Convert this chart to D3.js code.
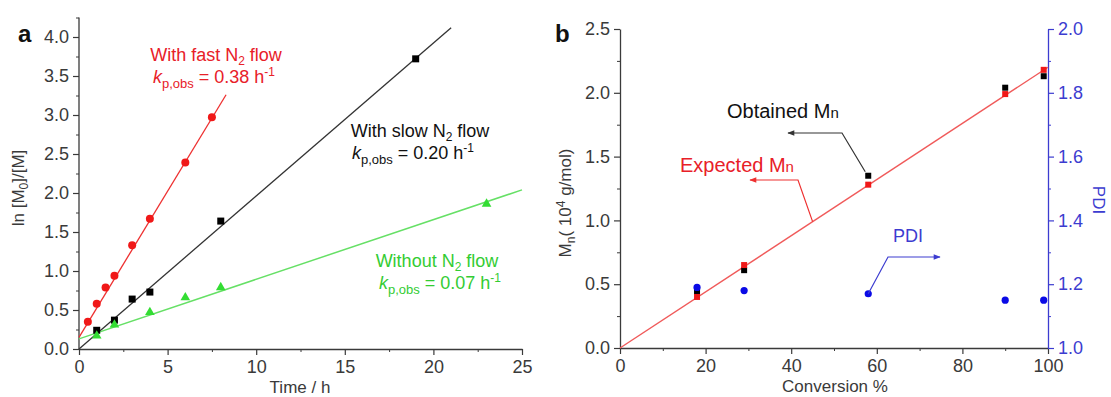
<!DOCTYPE html>
<html>
<head>
<meta charset="utf-8">
<script src="https://cdn.jsdelivr.net/npm/d3@7"></script>
<style>
  body { margin: 0; background: #fff; }
  svg { font-family: "Liberation Sans", Arial, sans-serif; }
</style>
</head>
<body>
<svg id="chart" width="1111" height="397"></svg>
<script>
// panel a: ln([M0]/[M]) vs time
const fastTime = [0.5, 1, 1.5, 2, 3, 4, 6, 7.5];
const fastLn = [0.35, 0.58, 0.79, 0.94, 1.33, 1.67, 2.39, 2.97];
const fastFit = [[0, 0.15], [8.3, 3.26]];

const slowTime = [1, 2, 3, 4, 8, 19];
const slowLn = [0.24, 0.37, 0.64, 0.73, 1.64, 3.72];
const slowFit = [[0, 0.0], [21, 4.12]];

const noneTime = [1, 2, 4, 6, 8, 23];
const noneLn = [0.17, 0.31, 0.47, 0.66, 0.79, 1.86];
const noneFit = [[0, 0.13], [25, 2.04]];

const aXTicks = [0, 5, 10, 15, 20, 25];
const aYTicks = [0.0, 0.5, 1.0, 1.5, 2.0, 2.5, 3.0, 3.5, 4.0];

// panel b: Mn and PDI vs conversion
const conversion = [18, 29, 58, 90, 99];
const mnExpected = [0.40, 0.65, 1.28, 1.99, 2.18];
const mnObtained = [0.44, 0.61, 1.35, 2.04, 2.13];
const pdi = [1.19, 1.18, 1.17, 1.15, 1.15];
const expectedFit = [[0, 0], [100, 2.2]];

const bXTicks = [0, 20, 40, 60, 80, 100];
const bYTicks = [0.0, 0.5, 1.0, 1.5, 2.0, 2.5];
const bY2Ticks = [1.0, 1.2, 1.4, 1.6, 1.8, 2.0];

const svg = d3.select('#chart');
const axisColor = '#3a3a3a';
const red = '#f01818';
const green = '#33dd33';
const blue = '#0a0ae6';
const axisBlue = '#3c3cd0';

function styleAxis(g, color) {
  g.select('.domain').attr('stroke', color).attr('stroke-width', 1.3);
  g.selectAll('.tick line').attr('stroke', color).attr('stroke-width', 1.2);
  g.selectAll('.tick text').attr('fill', color).style('font-size', '18px');
}

function minorAxis(axisFn, scale, values, size) {
  return axisFn(scale).tickValues(values).tickSize(size).tickFormat('');
}

// ---------- panel a ----------
const ax = d3.scaleLinear().domain([0, 25]).range([79, 522]);
const ay = d3.scaleLinear().domain([0, 4]).range([349, 37]);

const aMinorY = d3.range(0.25, 4.3, 0.5);
const aMinorX = d3.range(2.5, 25, 5);

svg.append('g').attr('transform', 'translate(79,0)')
  .call(minorAxis(d3.axisLeft, ay, aMinorY, 3))
  .call(g => { g.select('.domain').remove(); g.selectAll('line').attr('stroke', axisColor); });
svg.append('g').attr('transform', 'translate(0,349)')
  .call(minorAxis(d3.axisBottom, ax, aMinorX, 3))
  .call(g => { g.select('.domain').remove(); g.selectAll('line').attr('stroke', axisColor); });

const ayAxis = svg.append('g').attr('transform', 'translate(79,0)')
  .call(d3.axisLeft(ay).tickValues(aYTicks).tickFormat(d3.format('.1f')).tickSize(6).tickSizeOuter(0).tickPadding(4));
ayAxis.select('.domain').attr('d', `M0,${ay(4.25)}V${ay(0)}`);
styleAxis(ayAxis, axisColor);

const axAxis = svg.append('g').attr('transform', 'translate(0,349)')
  .call(d3.axisBottom(ax).tickValues(aXTicks).tickFormat(d3.format('d')).tickSize(6).tickSizeOuter(0).tickPadding(5));
styleAxis(axAxis, axisColor);

const line = d3.line();
function fitLine(pts, xs, ys, color, width) {
  svg.append('path')
    .attr('d', line(pts.map(p => [xs(p[0]), ys(p[1])])))
    .attr('fill', 'none').attr('stroke', color).attr('stroke-width', width);
}

fitLine(fastFit, ax, ay, '#ee3030', 1.3);
fitLine(slowFit, ax, ay, '#333', 1.3);
fitLine(noneFit, ax, ay, '#66e066', 1.5);

svg.append('g').selectAll('circle').data(fastTime).join('circle')
  .attr('cx', d => ax(d)).attr('cy', (d, i) => ay(fastLn[i])).attr('r', 4)
  .attr('fill', red);

svg.append('g').selectAll('rect').data(slowTime).join('rect')
  .attr('x', d => ax(d) - 3.5).attr('y', (d, i) => ay(slowLn[i]) - 3.5)
  .attr('width', 7).attr('height', 7).attr('fill', '#000');

const tri = d3.symbol().type(d3.symbolTriangle).size(40);
svg.append('g').selectAll('path').data(noneTime).join('path')
  .attr('transform', (d, i) => `translate(${ax(d)},${ay(noneLn[i])})`)
  .attr('d', tri).attr('fill', green);

// annotations a
function kLabel(x, y, color, value) {
  const t = svg.append('text').attr('x', x).attr('y', y).attr('fill', color)
    .attr('text-anchor', 'middle').style('font-size', '18px');
  t.append('tspan').text('k').style('font-style', 'italic');
  t.append('tspan').text('p,obs').attr('dy', 5).style('font-size', '13px');
  t.append('tspan').text(` = ${value} h`).attr('dy', -5);
  t.append('tspan').text('-1').attr('dy', -7).style('font-size', '12px');
}
function flowLabel(x, y, color, prefix) {
  const t = svg.append('text').attr('x', x).attr('y', y).attr('fill', color)
    .attr('text-anchor', 'middle').style('font-size', '18px');
  t.append('tspan').text(prefix + ' N');
  t.append('tspan').text('2').attr('dy', 4).style('font-size', '12px');
  t.append('tspan').text(' flow').attr('dy', -4);
}

flowLabel(216, 61, '#e82028', 'With fast');
kLabel(214, 83, '#e82028', '0.38');
flowLabel(420, 137, '#111', 'With slow');
kLabel(413, 159, '#111', '0.20');
flowLabel(437, 267, '#33cc33', 'Without');
kLabel(440, 289, '#33cc33', '0.07');

svg.append('text').attr('x', 300).attr('y', 393).attr('text-anchor', 'middle')
  .attr('fill', axisColor).style('font-size', '17px').text('Time / h');

const aYLabel = svg.append('text').attr('transform', 'translate(24,188) rotate(-90)')
  .attr('text-anchor', 'middle').attr('fill', axisColor).style('font-size', '17px');
aYLabel.append('tspan').text('ln [M');
aYLabel.append('tspan').text('0').attr('dy', 4).style('font-size', '12px');
aYLabel.append('tspan').text(']/[M]').attr('dy', -4);

svg.append('text').attr('x', 18).attr('y', 42).style('font-size', '24px')
  .style('font-weight', 'bold').attr('fill', '#111').text('a');

// ---------- panel b ----------
const bx = d3.scaleLinear().domain([0, 100]).range([620, 1048]);
const by = d3.scaleLinear().domain([0, 2.5]).range([348, 29]);
const by2 = d3.scaleLinear().domain([1.0, 2.0]).range([348, 29]);

svg.append('g').attr('transform', 'translate(620,0)')
  .call(minorAxis(d3.axisLeft, by, d3.range(0.25, 2.5, 0.5), 3))
  .call(g => { g.select('.domain').remove(); g.selectAll('line').attr('stroke', axisColor); });
svg.append('g').attr('transform', 'translate(0,348)')
  .call(minorAxis(d3.axisBottom, bx, d3.range(10, 100, 20), 3))
  .call(g => { g.select('.domain').remove(); g.selectAll('line').attr('stroke', axisColor); });
svg.append('g').attr('transform', 'translate(1048,0)')
  .call(minorAxis(d3.axisRight, by2, d3.range(1.1, 2.0, 0.2), 3))
  .call(g => { g.select('.domain').remove(); g.selectAll('line').attr('stroke', axisBlue); });

const byAxis = svg.append('g').attr('transform', 'translate(620,0)')
  .call(d3.axisLeft(by).tickValues(bYTicks).tickFormat(d3.format('.1f')).tickSize(6).tickSizeOuter(0).tickPadding(4));
styleAxis(byAxis, axisColor);

const bxAxis = svg.append('g').attr('transform', 'translate(0,348)')
  .call(d3.axisBottom(bx).tickValues(bXTicks).tickFormat(d3.format('d')).tickSize(6).tickSizeOuter(0).tickPadding(5));
styleAxis(bxAxis, axisColor);

const by2Axis = svg.append('g').attr('transform', 'translate(1048,0)')
  .call(d3.axisRight(by2).tickValues(bY2Ticks).tickFormat(d3.format('.1f')).tickSize(6).tickSizeOuter(0).tickPadding(4));
styleAxis(by2Axis, axisBlue);

fitLine(expectedFit, bx, by, '#f05a5a', 1.4);

svg.append('g').selectAll('rect').data(conversion).join('rect')
  .attr('x', d => bx(d) - 3).attr('y', (d, i) => by(mnObtained[i]) - 3)
  .attr('width', 6).attr('height', 6).attr('fill', '#000');
svg.append('g').selectAll('rect').data(conversion).join('rect')
  .attr('x', d => bx(d) - 3).attr('y', (d, i) => by(mnExpected[i]) - 3)
  .attr('width', 6).attr('height', 6).attr('fill', red);
svg.append('g').selectAll('circle').data(conversion).join('circle')
  .attr('cx', d => bx(d)).attr('cy', (d, i) => by2(pdi[i])).attr('r', 3.6)
  .attr('fill', blue);

// arrows b
const defs = svg.append('defs');
function marker(id, color) {
  defs.append('marker').attr('id', id).attr('viewBox', '0 0 10 10')
    .attr('refX', 9).attr('refY', 5).attr('markerWidth', 9).attr('markerHeight', 7)
    .attr('markerUnits', 'userSpaceOnUse').attr('orient', 'auto')
    .append('path').attr('d', 'M0,1L10,5L0,9Z').attr('fill', color);
}
marker('arrBlack', '#333');
marker('arrRed', '#ee3030');
marker('arrBlue', axisBlue);

function leader(pts, color, id) {
  svg.append('path').attr('d', line(pts)).attr('fill', 'none')
    .attr('stroke', color).attr('stroke-width', 1.2).attr('marker-end', `url(#${id})`);
}
leader([[bx(58) - 3, by(mnObtained[2]) - 4], [842, 133], [788, 133]], '#333', 'arrBlack');
leader([[bx(45), by(0.99)], [798, 180], [750, 180]], '#ee3030', 'arrRed');
leader([[bx(58), by2(pdi[2])], [888, 257], [940, 257]], axisBlue, 'arrBlue');

function mnLabel(x, y, color, word) {
  const t = svg.append('text').attr('x', x).attr('y', y).attr('fill', color).style('font-size', '20px');
  t.append('tspan').text(word + ' M');
  t.append('tspan').text('n').style('font-size', '15px');
}
mnLabel(727, 118, '#111', 'Obtained');
mnLabel(680, 172, '#e82028', 'Expected');
svg.append('text').attr('x', 893).attr('y', 242).attr('fill', axisBlue)
  .style('font-size', '18px').text('PDI');

svg.append('text').attr('x', 835).attr('y', 392).attr('text-anchor', 'middle')
  .attr('fill', axisColor).style('font-size', '17px').text('Conversion %');

const bYLabel = svg.append('text').attr('transform', 'translate(571,203) rotate(-90)')
  .attr('text-anchor', 'middle').attr('fill', axisColor).style('font-size', '17px');
bYLabel.append('tspan').text('M');
bYLabel.append('tspan').text('n').attr('dy', 4).style('font-size', '12px');
bYLabel.append('tspan').text('( 10').attr('dy', -4);
bYLabel.append('tspan').text('4').attr('dy', -6).style('font-size', '12px');
bYLabel.append('tspan').text(' g/mol)').attr('dy', 6);

svg.append('text').attr('transform', 'translate(1093,200) rotate(90)')
  .attr('text-anchor', 'middle').attr('fill', axisBlue).style('font-size', '17px').text('PDI');

svg.append('text').attr('x', 555).attr('y', 42).style('font-size', '24px')
  .style('font-weight', 'bold').attr('fill', '#111').text('b');
</script>
</body>
</html>
